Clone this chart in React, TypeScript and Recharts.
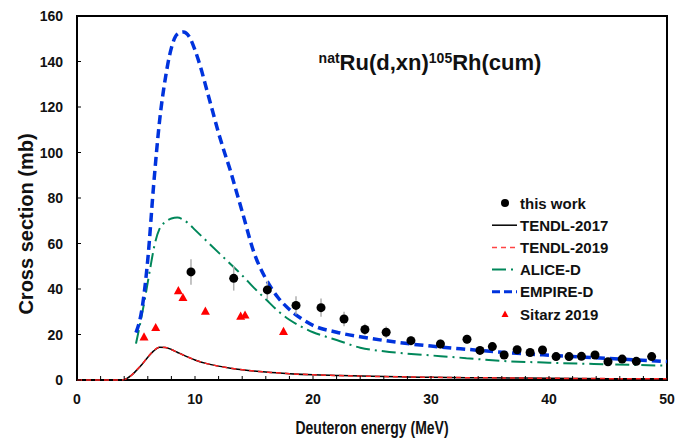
import React from "react";
import {
  ComposedChart,
  Line,
  Scatter,
  XAxis,
  YAxis,
  ErrorBar,
  ReferenceArea,
  Legend,
} from "recharts";

// TENDL-2017 excitation function
const tendl17Energy = [0, 1, 2, 3, 3.8, 4.2, 4.6, 5, 5.5, 6, 6.5, 7, 7.5, 8, 8.5, 9, 10, 11, 12, 13, 14, 16, 18, 20, 22, 25, 28, 30, 35, 40, 45, 50];
const tendl17Xs = [0, 0, 0, 0, 0, 0.6, 2.0, 4.0, 6.8, 10.0, 12.8, 14.4, 14.3, 13.4, 12.2, 11.0, 8.8, 7.2, 6.1, 5.2, 4.5, 3.5, 2.8, 2.3, 2.0, 1.6, 1.35, 1.2, 0.95, 0.75, 0.6, 0.5];

// TENDL-2019 excitation function
const tendl19Energy = [0, 1, 2, 3, 3.8, 4.2, 4.6, 5, 5.5, 6, 6.5, 7, 7.5, 8, 8.5, 9, 10, 11, 12, 13, 14, 16, 18, 20, 22, 25, 28, 30, 35, 40, 45, 50];
const tendl19Xs = [0, 0, 0, 0, 0, 0.6, 2.0, 4.1, 6.9, 10.1, 12.9, 14.4, 14.3, 13.4, 12.2, 11.0, 8.8, 7.2, 6.1, 5.2, 4.5, 3.5, 2.8, 2.3, 2.0, 1.6, 1.35, 1.2, 0.95, 0.75, 0.6, 0.5];

// ALICE-D
const aliceEnergy = [5, 5.4, 5.8, 6.2, 6.6, 7, 7.5, 8, 8.5, 9, 9.5, 10, 11, 12, 13, 14, 15, 16, 17, 18, 19, 20, 21, 22, 24, 26, 28, 30, 33, 36, 40, 45, 50];
const aliceXs = [16, 26, 37, 49, 60, 66.5, 69.5, 71, 71.4, 70.5, 68.5, 66, 61, 56, 51, 46, 40.5, 35.5, 30.5, 26.5, 23.5, 21, 19.2, 17.6, 14.2, 12.6, 11.6, 10.8, 9.6, 8.4, 7.6, 6.9, 6.3];

// EMPIRE-D
const empireEnergy = [5, 5.5, 6, 6.5, 7, 7.5, 8, 8.5, 9, 9.5, 10, 10.5, 11, 11.5, 12, 12.5, 13, 13.5, 14, 15, 16, 17, 18, 19, 20, 22, 24, 26, 28, 30, 33, 36, 40, 45, 50];
const empireXs = [20.8, 31, 53, 86, 114, 133, 146, 152, 153, 151, 145, 137, 127.5, 118, 108.5, 100, 92, 83, 74, 56, 44.5, 36.5, 31, 27, 24, 21, 19, 17.4, 16, 14.9, 13.5, 12.2, 10.9, 9.5, 8.1];

// Measured cross sections (this work) with uncertainties
const thisWorkEnergy = [9.66, 13.28, 16.13, 18.56, 20.68, 22.63, 24.4, 26.2, 28.3, 30.8, 33.05, 34.15, 35.2, 36.2, 37.3, 38.4, 39.45, 40.6, 41.7, 42.75, 43.9, 45.0, 46.2, 47.4, 48.7];
const thisWorkXs = [47.5, 44.7, 39.6, 32.8, 31.8, 26.8, 22.2, 21.0, 17.3, 15.8, 17.9, 13.0, 14.7, 11.0, 13.3, 12.1, 13.2, 10.3, 10.3, 10.4, 11.0, 8.0, 9.2, 8.2, 10.3];
const thisWorkErr = [5.6, 5.4, 4.0, 4.0, 4.0, 3.2, 2.5, 2.5, 2.0, 2.0, 2.0, 1.8, 1.8, 1.5, 1.5, 1.5, 1.5, 1.3, 1.3, 1.3, 1.3, 1.2, 1.2, 1.2, 1.2];

// Sitarz 2019
const sitarzEnergy = [5.68, 6.67, 8.59, 8.98, 10.88, 13.87, 14.24, 17.5];
const sitarzXs = [19.0, 23.1, 39.3, 36.3, 30.3, 28.1, 28.6, 21.4];

// Axis ticks
const xTicks = [0, 2, 4, 6, 8, 10, 12, 14, 16, 18, 20, 22, 24, 26, 28, 30, 32, 34, 36, 38, 40, 42, 44, 46, 48, 50];
const xLabelTicks = [0, 10, 20, 30, 40, 50];
const yTicks = [0, 20, 40, 60, 80, 100, 120, 140, 160];

const FONT = "'Liberation Sans', Arial, Helvetica, sans-serif";

const toPoints = (xs: number[], ys: number[]) => xs.map((x, i) => ({ x, y: ys[i] }));

const tendl17Data = toPoints(tendl17Energy, tendl17Xs);
const tendl19Data = toPoints(tendl19Energy, tendl19Xs);
const aliceData = toPoints(aliceEnergy, aliceXs);
const empireData = toPoints(empireEnergy, empireXs);
const thisWorkData = thisWorkEnergy.map((x, i) => ({ x, y: thisWorkXs[i], err: thisWorkErr[i] }));
const sitarzData = toPoints(sitarzEnergy, sitarzXs);

const XTick = (props: any) => {
  const { x, y, payload } = props;
  const v = payload.value;
  return (
    <g>
      <line x1={x} x2={x} y1={y} y2={y - 4} stroke="#000" strokeWidth={1} />
      {xLabelTicks.includes(v) && (
        <text x={x} y={y + 24} textAnchor="middle" fontFamily={FONT} fontWeight="bold" fontSize={14} fill="#111">
          {v}
        </text>
      )}
    </g>
  );
};

const YTick = (props: any) => {
  const { x, y, payload } = props;
  return (
    <g>
      <line x1={x} x2={x + 4} y1={y} y2={y} stroke="#000" strokeWidth={1} />
      <text x={x - 14} y={y + 5} textAnchor="end" fontFamily={FONT} fontWeight="bold" fontSize={14} fill="#111">
        {payload.value}
      </text>
    </g>
  );
};

const Dot = (props: any) => {
  const { cx, cy } = props;
  return <circle cx={cx} cy={cy} r={4.5} fill="#000" />;
};

const Tri = (props: any) => {
  const { cx, cy } = props;
  const s = 4.5;
  return <polygon points={`${cx},${cy - s} ${cx - s},${cy + s * 0.8} ${cx + s},${cy + s * 0.8}`} fill="#ff0000" />;
};

type LegendRow = { name: string; kind: "dot" | "tri" | "line"; stroke?: string; width?: number; dash?: string };
const legendRows: LegendRow[] = [
  { name: "this work", kind: "dot" },
  { name: "TENDL-2017", kind: "line", stroke: "#000", width: 1.5 },
  { name: "TENDL-2019", kind: "line", stroke: "#ff4444", width: 1.5, dash: "5 4" },
  { name: "ALICE-D", kind: "line", stroke: "#00875a", width: 2, dash: "14 5 2 5" },
  { name: "EMPIRE-D", kind: "line", stroke: "#0033dd", width: 3, dash: "8 4" },
  { name: "Sitarz 2019", kind: "tri" },
];

const LegendBox = () => (
  <svg width={160} height={135} style={{ display: "block" }}>
    {legendRows.map((r, i) => {
      const cy = 11 + i * 22.2;
      return (
        <g key={r.name}>
          {r.kind === "dot" && <circle cx={17} cy={cy} r={4} fill="#000" />}
          {r.kind === "tri" && <polygon points={`17,${cy - 3.5} 13.5,${cy + 3} 20.5,${cy + 3}`} fill="#ff0000" />}
          {r.kind === "line" && (
            <line x1={4} x2={29} y1={cy} y2={cy} stroke={r.stroke} strokeWidth={r.width} strokeDasharray={r.dash} />
          )}
          <text x={32} y={cy + 5.5} fontFamily={FONT} fontWeight="bold" fontSize={15} fill="#111">
            {r.name}
          </text>
        </g>
      );
    })}
  </svg>
);

export default function App() {
  return (
    <div style={{ position: "absolute", left: 0, top: 0, width: 690, height: 442, background: "#fff" }}>
      <ComposedChart width={690} height={442} margin={{ top: 16, right: 23, bottom: 0, left: 0 }}>
        <XAxis
          dataKey="x"
          type="number"
          domain={[0, 50]}
          ticks={xTicks}
          interval={0}
          height={62}
          tickSize={0}
          tickMargin={0}
          tickLine={false}
          axisLine={false}
          tick={<XTick />}
          label={{
            content: (p: any) => {
              const vb = p.viewBox;
              return (
                <text
                  transform={`translate(${vb.x + vb.width / 2},434) scale(0.8,1)`}
                  textAnchor="middle"
                  fontFamily={FONT}
                  fontWeight="bold"
                  fontSize={17.5}
                  fill="#111"
                >
                  Deuteron energy (MeV)
                </text>
              );
            },
          }}
        />
        <YAxis
          dataKey="y"
          type="number"
          domain={[0, 160]}
          ticks={yTicks}
          interval={0}
          width={77}
          tickSize={0}
          tickMargin={0}
          tickLine={false}
          axisLine={false}
          tick={<YTick />}
          label={{
            content: () => (
              <text
                transform="translate(33,224) rotate(-90)"
                textAnchor="middle"
                fontFamily={FONT}
                fontWeight="bold"
                fontSize={20}
                fill="#111"
              >
                Cross section (mb)
              </text>
            ),
          }}
        />
        <ReferenceArea x1={0} x2={50} y1={0} y2={160} fill="none" stroke="#000" strokeWidth={2} ifOverflow="visible" />
        <Line data={aliceData} dataKey="y" name="ALICE-D" type="monotone" stroke="#00875a" strokeWidth={2} strokeDasharray="14 5 2 5" dot={false} isAnimationActive={false} />
        <Line data={empireData} dataKey="y" name="EMPIRE-D" type="monotone" stroke="#0033dd" strokeWidth={3.5} strokeDasharray="9 5" dot={false} isAnimationActive={false} />
        <Line data={tendl17Data} dataKey="y" name="TENDL-2017" type="monotone" stroke="#000" strokeWidth={1.5} dot={false} isAnimationActive={false} />
        <Line data={tendl19Data} dataKey="y" name="TENDL-2019" type="monotone" stroke="#ff2222" strokeWidth={1.5} strokeDasharray="5 4" dot={false} isAnimationActive={false} />
        <Scatter data={sitarzData} dataKey="y" name="Sitarz 2019" shape={<Tri />} isAnimationActive={false} />
        <Scatter data={thisWorkData} dataKey="y" name="this work" shape={<Dot />} isAnimationActive={false}>
          <ErrorBar dataKey="err" direction="y" width={0} stroke="#b0b0b0" strokeWidth={1.5} />
        </Scatter>
        <Legend
          layout="vertical"
          align="center"
          verticalAlign="middle"
          content={() => <LegendBox />}
          wrapperStyle={{ position: "absolute", left: 488, top: 192, width: 160, height: 135 }}
        />
        <text x={430} y={70} textAnchor="middle" fontFamily={FONT} fontWeight="bold" fontSize={22} fill="#111">
          <tspan fontSize={14} dy={-7}>nat</tspan>
          <tspan fontSize={22} dy={7}>Ru(d,xn)</tspan>
          <tspan fontSize={14} dy={-7}>105</tspan>
          <tspan fontSize={22} dy={7}>Rh(cum)</tspan>
        </text>
      </ComposedChart>
    </div>
  );
}
